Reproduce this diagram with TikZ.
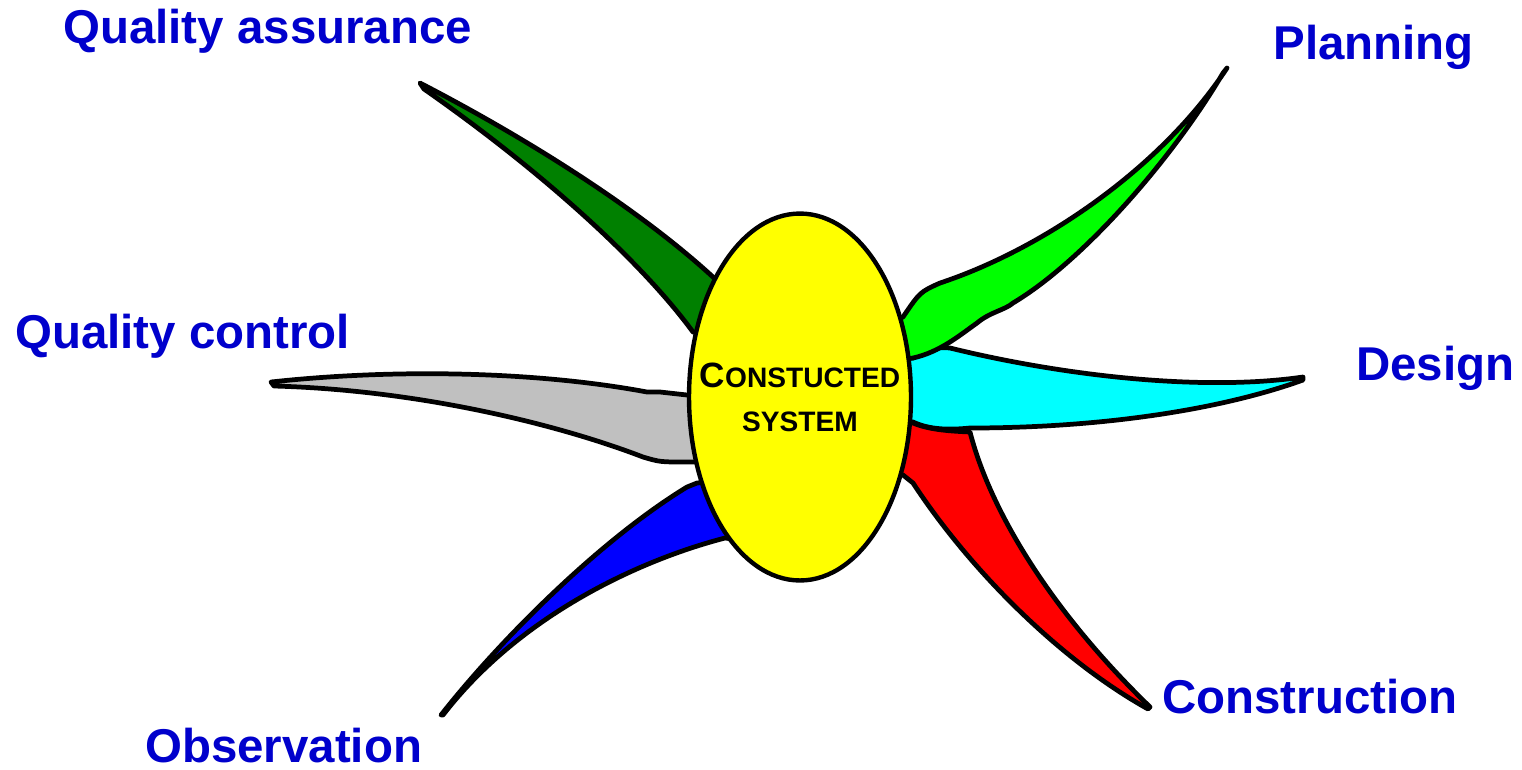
\documentclass[tikz,border=0pt]{standalone}
\usepackage{fontspec}
\setmainfont{Liberation Sans}
\usetikzlibrary{shapes.geometric}
\definecolor{labelblue}{RGB}{0,0,204}
\definecolor{qagreen}{HTML}{008000}
\definecolor{plangreen}{HTML}{00FF00}
\definecolor{designcyan}{HTML}{00FFFF}
\definecolor{constrred}{HTML}{FF0000}
\definecolor{qcgray}{HTML}{C0C0C0}
\definecolor{obsblue}{HTML}{0000FF}
\definecolor{coreyellow}{HTML}{FFFF00}

\begin{document}
\begin{tikzpicture}[x=0.02cm,y=-0.02cm,
  petal/.style={draw=black,line width=2.7pt,line join=round},
  lbl/.style={anchor=base west,inner sep=0pt,text=labelblue,font=\fontsize{27}{32}\selectfont\bfseries}]
\useasboundingbox (0,0) rectangle (1522,769);
% petals, behind the centre
\filldraw[petal,fill=qagreen] (420,83) .. controls (530,140) and (640,210) .. (713,277) -- (745,305)
  -- (745,345) -- (693,332) .. controls (640,260) and (540,170) .. (424,89) -- cycle;
\filldraw[petal,fill=constrred] (1148,709) .. controls (1060,660) and (970,570) .. (913,483)
  -- (903,475) -- (870,470) -- (880,425) -- (913,423) .. controls (930,430) and (950,431) .. (970,432)
  .. controls (990,510) and (1050,610) .. (1150,707) -- cycle;
\filldraw[petal,fill=designcyan] (1303,377) .. controls (1200,392) and (1060,375) .. (950,348)
  .. controls (935,346) and (925,352) .. (913,358) -- (880,360) -- (880,420) -- (913,422)
  .. controls (930,430) and (950,430) .. (970,428) .. controls (1100,428) and (1220,410) .. (1303,380) -- cycle;
\filldraw[petal,fill=plangreen] (1227,68) .. controls (1160,170) and (1040,250) .. (940,283)
  .. controls (920,292) .. (903,317) -- (870,330) -- (870,365) -- (913,358)
  .. controls (940,352) and (960,335) .. (977,323) .. controls (990,312) and (1005,310) .. (1013,303)
  .. controls (1085,260) and (1175,155) .. (1223,73) -- cycle;
\filldraw[petal,fill=qcgray] (271,382) .. controls (400,368) and (540,372) .. (647,392)
  -- (660,392) -- (687,395) -- (720,395) -- (720,462) -- (687,462)
  .. controls (660,462) .. (643,457) .. controls (560,425) and (420,390) .. (274,386) -- cycle;
\filldraw[petal,fill=obsblue] (441,715) .. controls (500,640) and (600,540) .. (687,487)
  -- (697,483) -- (730,480) -- (740,540) -- (725,538) .. controls (640,560) and (520,615) .. (443,715) -- cycle;
% centre
\node[ellipse,draw=black,line width=2.5pt,fill=coreyellow,minimum width=4.44cm,minimum height=7.34cm,inner sep=0pt] (core) at (800,397) {};
\node[align=center,inner sep=0pt,font=\fontsize{16}{25}\selectfont\bfseries] (coretext) at (core.center)
  {{\fontsize{20}{25}\selectfont C}ONSTUCTED\\SYSTEM};
% labels
\node[lbl] (qa) at (63,43) {Quality assurance};
\node[lbl] (plan) at (1273,59) {Planning};
\node[lbl] (qc) at (15,348) {Quality control};
\node[lbl] (design) at (1356,380) {Design};
\node[lbl] (constr) at (1162,713) {Construction};
\node[lbl] (obs) at (145,762) {Observation};
\end{tikzpicture}
\end{document}
